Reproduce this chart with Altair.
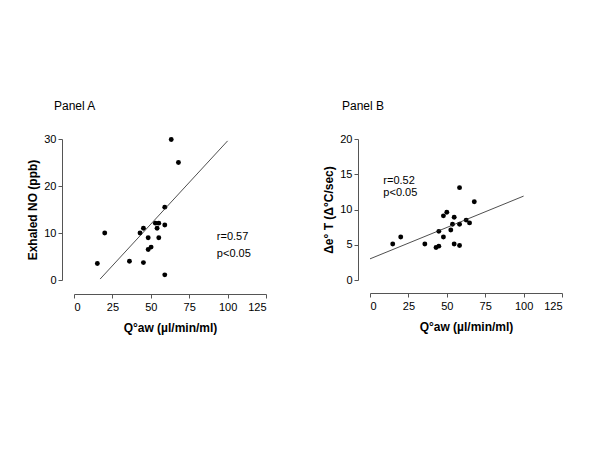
import altair as alt
import pandas as pd

# Panel A data
a_x = [63.3, 68.0, 59.1, 53.0, 55.2, 54.1, 45.2, 43.0, 20.0, 59.1, 48.3, 55.2, 50.2, 48.3, 36.1, 45.2, 15.2, 59.1]
a_y = [29.9, 25.0, 15.5, 12.1, 12.1, 11.0, 11.0, 10.0, 10.0, 11.7, 9.0, 9.0, 7.0, 6.5, 4.0, 3.7, 3.5, 1.1]
a_line_x = [17.0, 100.0]
a_line_y = [0.2, 29.6]
a_text = ["r=0.57", "p<0.05"]
a_text_x = [93, 93]
a_text_y = [9.2, 5.5]

# Panel B data
b_x = [58.3, 67.9, 50.0, 47.8, 54.8, 62.6, 64.8, 58.3, 53.7, 52.6, 44.8, 20.0, 47.8, 14.8, 35.7, 54.8, 58.3, 44.8, 43.0]
b_y = [13.1, 11.1, 9.6, 9.1, 8.9, 8.5, 8.1, 7.9, 7.9, 7.1, 6.9, 6.1, 6.1, 5.1, 5.1, 5.1, 4.9, 4.8, 4.6]
b_line_x = [0.0, 100.0]
b_line_y = [3.0, 11.9]
b_text = ["r=0.52", "p<0.05"]
b_text_x = [8.7, 8.7]
b_text_y = [14.0, 12.3]

x_ticks = [0, 25, 50, 75, 100, 125]
FONT = "Liberation Sans"
GRAY = "#555555"


def panel(px, py, lx, ly, tx, ty, tt, ymax, yticks, ytitle, title, xoff, tdx):
    pts = pd.DataFrame({"x": px, "y": py})
    ln = pd.DataFrame({"x": lx, "y": ly})
    tx_df = pd.DataFrame({"x": tx, "y": ty, "t": tt})
    xs = alt.Scale(domain=[0, 125], nice=False, zero=False)
    ys = alt.Scale(domain=[0, ymax], nice=False, zero=False)
    xax = alt.Axis(values=x_ticks, title="Q°aw (µl/min/ml)", offset=xoff, grid=False,
                   domainColor=GRAY, tickColor=GRAY, tickSize=4, labelFontSize=11,
                   labelColor="black", titleFontSize=12, titleFontWeight="bold",
                   titlePadding=10, labelPadding=3, labelFont=FONT, titleFont=FONT,
                   labelOverlap=False)
    yax = alt.Axis(values=yticks, title=ytitle, offset=12, grid=False,
                   domainColor=GRAY, tickColor=GRAY, tickSize=4, labelFontSize=11,
                   labelColor="black", titleFontSize=12, titleFontWeight="bold",
                   titlePadding=4, labelPadding=2, labelFont=FONT, titleFont=FONT,
                   labelOverlap=False)
    X = alt.X("x:Q", scale=xs, axis=xax)
    Y = alt.Y("y:Q", scale=ys, axis=yax)
    p = alt.Chart(pts).mark_circle(size=24, color="black", opacity=1).encode(x=X, y=Y)
    l = alt.Chart(ln).mark_line(color="#222222", strokeWidth=0.8).encode(x=X, y=Y)
    t = alt.Chart(tx_df).mark_text(align="left", baseline="middle", fontSize=11,
                                    font=FONT, color="black").encode(x=X, y=Y, text="t:N")
    return alt.layer(p, l, t).properties(
        width=192, height=141,
        title=alt.TitleParams(title, anchor="start", frame="group", fontSize=12,
                              fontWeight="normal", font=FONT, dx=tdx, offset=20),
    )


pa = panel(a_x, a_y, a_line_x, a_line_y, a_text_x, a_text_y, a_text, 30, [0, 10, 20, 30],
           "Exhaled NO (ppb)", "Panel A", 14, -20)
pb = panel(b_x, b_y, b_line_x, b_line_y, b_text_x, b_text_y, b_text, 20, [0, 5, 10, 15, 20],
           "Δe° T (Δ°C/sec)", "Panel B", 13, -28)

chart = alt.hconcat(pa, pb, spacing=55).properties(
    padding={"left": 18, "top": 92, "right": 5, "bottom": 5}
).configure(background="white", view=alt.ViewConfig(stroke=None))

chart.save("out.html", embed_options={"renderer": "svg", "actions": False})
